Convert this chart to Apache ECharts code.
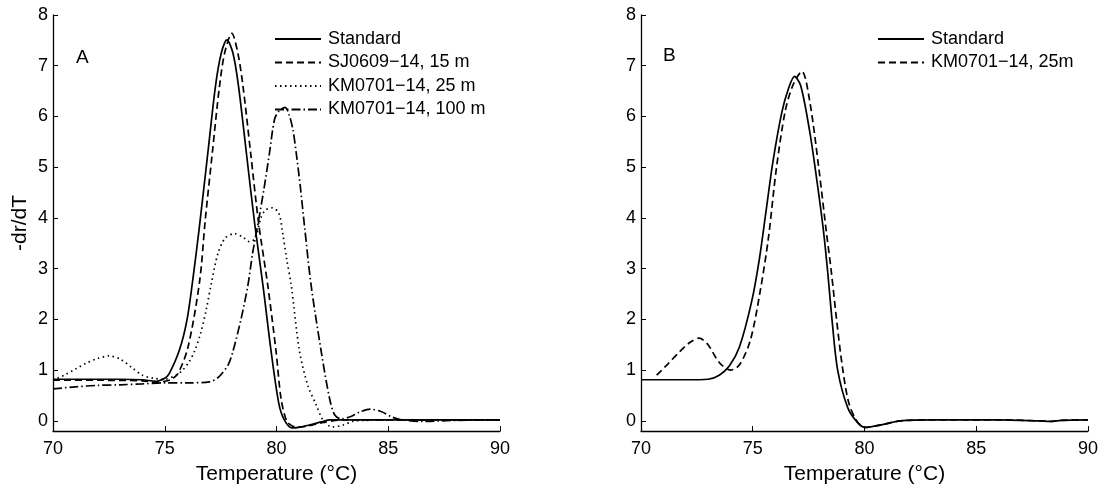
<!DOCTYPE html>
<html>
<head>
<meta charset="utf-8">
<script src="https://cdn.jsdelivr.net/npm/echarts@6/dist/echarts.min.js"></script>
<style>
  html, body { margin: 0; padding: 0; background: #fff; }
  #chart { width: 1101px; height: 490px; }
</style>
</head>
<body>
<div id="chart"></div>
<script>
// Melting-curve derivatives (-dr/dT) versus temperature, two panels.
const yTicks = [0, 1, 2, 3, 4, 5, 6, 7, 8];
const xTicks = [70, 75, 80, 85, 90];

// Panel A
const namesA = ['Standard', 'SJ0609\u221214, 15 m', 'KM0701\u221214, 25 m', 'KM0701\u221214, 100 m'];

const tStdA = [70, 71, 72, 73, 74, 74.6, 75.0, 75.2, 75.66, 76.0, 76.26, 76.53, 76.93, 77.27, 77.53, 77.78, 78.05, 78.3, 78.65, 79.02, 79.4, 79.75, 80.1, 80.35, 80.7, 81.0, 81.5, 82.0, 82.4, 84, 86, 88, 90];
const vStdA = [0.82, 0.82, 0.82, 0.82, 0.81, 0.78, 0.84, 0.93, 1.4, 2.0, 2.8, 3.75, 5.29, 6.6, 7.25, 7.51, 7.25, 6.6, 5.29, 3.9, 2.65, 1.4, 0.35, 0.02, -0.14, -0.13, -0.08, -0.02, 0.02, 0.02, 0.02, 0.02, 0.02];

const tSjA = [70, 72, 74, 74.5, 75, 75.3, 75.59, 76.04, 76.56, 76.81, 77.13, 77.45, 77.68, 78.0, 78.27, 78.5, 78.84, 79.2, 79.61, 79.98, 80.2, 80.45, 80.7, 81.0, 81.4, 82.0, 82.5, 83, 85, 90];
const vSjA = [0.8, 0.8, 0.79, 0.76, 0.78, 0.82, 0.93, 1.45, 2.75, 3.95, 5.29, 6.6, 7.25, 7.64, 7.25, 6.6, 5.29, 3.9, 2.67, 1.37, 0.45, 0.0, -0.1, -0.12, -0.1, -0.04, 0.0, 0.02, 0.02, 0.02];

const tKm25A = [70, 70.5, 71, 71.5, 72, 72.5, 73, 73.5, 74, 74.5, 75, 75.5, 75.8, 76.1, 76.33, 76.6, 76.86, 77.08, 77.38, 77.7, 78.12, 78.5, 78.8, 79.05, 79.3, 79.5, 79.8, 80.1, 80.27, 80.45, 80.66, 81.03, 81.4, 81.77, 82.1, 82.5, 83.0, 83.4, 84, 86, 90];
const vKm25A = [0.8, 0.9, 1.02, 1.14, 1.23, 1.28, 1.22, 1.06, 0.9, 0.84, 0.82, 0.9, 1.0, 1.17, 1.37, 1.72, 2.2, 2.7, 3.3, 3.6, 3.69, 3.62, 3.53, 3.6, 4.0, 4.15, 4.2, 4.1, 3.72, 3.2, 2.67, 1.37, 0.7, 0.32, 0.0, -0.12, -0.08, -0.01, 0.01, 0.02, 0.02];

const tKm100A = [70, 71, 72, 73, 74, 75, 76, 77, 77.38, 77.83, 78.05, 78.42, 78.72, 78.94, 79.21, 79.45, 79.69, 79.91, 80.1, 80.38, 80.55, 80.73, 80.88, 81.06, 81.25, 81.55, 82.0, 82.37, 82.6, 82.9, 83.3, 83.7, 84.2, 84.7, 85.2, 85.6, 86.5, 88, 90];
const vKm100A = [0.63, 0.67, 0.7, 0.71, 0.73, 0.75, 0.75, 0.77, 0.85, 1.1, 1.37, 2.02, 2.67, 3.33, 3.98, 4.6, 5.29, 5.94, 6.1, 6.18, 6.05, 5.75, 5.29, 4.64, 3.85, 2.67, 1.37, 0.45, 0.12, 0.04, 0.08, 0.17, 0.23, 0.18, 0.07, 0.02, -0.01, 0.01, 0.02];

// Panel B
const namesB = ['Standard', 'KM0701\u221214, 25m'];

const tStdB = [70, 71, 72, 73, 73.5, 73.95, 74.4, 74.95, 75.3, 75.6, 75.9, 76.3, 76.6, 76.87, 77.15, 77.55, 77.85, 78.15, 78.35, 78.55, 78.8, 79.25, 79.7, 80.05, 80.5, 80.85, 81.6, 83, 86, 87.8, 88.3, 88.8, 90];
const vStdB = [0.81, 0.81, 0.81, 0.82, 0.9, 1.08, 1.45, 2.35, 3.2, 4.15, 5.1, 6.08, 6.55, 6.79, 6.6, 5.7, 4.8, 3.8, 2.95, 1.98, 1.0, 0.26, -0.04, -0.13, -0.1, -0.07, 0.0, 0.02, 0.02, 0.0, -0.01, 0.01, 0.02];

const tKmB = [70.7, 71.2, 71.7, 72.2, 72.6, 73.0, 73.5, 74.0, 74.4, 74.9, 75.35, 75.7, 76.05, 76.45, 76.8, 77.2, 77.55, 77.95, 78.3, 78.5, 78.75, 79.0, 79.3, 79.7, 80.05, 80.5, 80.85, 81.6, 83, 86, 87.8, 88.3, 88.8, 90];
const vKmB = [0.9, 1.12, 1.35, 1.55, 1.63, 1.5, 1.15, 1.0, 1.1, 1.6, 2.6, 3.6, 4.95, 6.1, 6.62, 6.89, 6.3, 5.0, 3.7, 3.0, 2.0, 1.1, 0.35, -0.03, -0.13, -0.1, -0.07, 0.0, 0.02, 0.02, 0.0, -0.01, 0.01, 0.02];

function pairs(t, v) { return t.map((x, i) => [x, v[i]]); }

const FONT = 'Liberation Sans, Arial, Helvetica, sans-serif';
const dashStyles = ['solid', [7, 4], [1.5, 3.5], [9, 3, 1.5, 3]];

function makeX(gridIndex) {
  return {
    type: 'value', gridIndex, min: 70, max: 90, interval: 5,
    axisLine: { onZero: false, lineStyle: { color: '#000', width: 1.3 } },
    axisTick: { inside: true, length: 5, lineStyle: { color: '#000', width: 1 } },
    axisLabel: { color: '#000', fontSize: 18, fontFamily: FONT, margin: 9, customValues: xTicks },
    splitLine: { show: false },
    name: 'Temperature (\u00B0C)', nameLocation: 'middle', nameGap: 33,
    nameTextStyle: { color: '#000', fontSize: 21, fontFamily: FONT }
  };
}
function makeY(gridIndex, name) {
  return {
    type: 'value', gridIndex, min: -0.2, max: 8,
    axisLine: { show: true, lineStyle: { color: '#000', width: 1.3 } },
    axisTick: { show: true, inside: true, length: 5, customValues: yTicks, lineStyle: { color: '#000', width: 1 } },
    axisLabel: { color: '#000', fontSize: 18, fontFamily: FONT, margin: 5, customValues: yTicks },
    splitLine: { show: false },
    name: name, nameLocation: 'middle', nameGap: 22,
    nameTextStyle: { color: '#000', fontSize: 21, fontFamily: FONT }
  };
}
function line(name, t, v, axisIdx, dash) {
  return {
    name, type: 'line', xAxisIndex: axisIdx, yAxisIndex: axisIdx,
    data: pairs(t, v), symbol: 'none', smooth: 0.3,
    lineStyle: { color: '#000', width: 1.7, type: dash },
    itemStyle: { color: '#000' }, z: 3
  };
}

const chart = echarts.init(document.getElementById('chart'), null, { renderer: 'canvas' });
const legendBase = {
  orient: 'vertical', itemWidth: 46, itemHeight: 12, itemGap: 5.5, padding: 0,
  selectedMode: false,
  itemStyle: { opacity: 0, borderWidth: 0 },
  textStyle: { color: '#000', fontSize: 18, fontFamily: FONT, padding: [0, 0, 0, 2] }
};
chart.setOption({
  animation: false,
  backgroundColor: '#fff',
  grid: [
    { left: 53, top: 15, width: 447, height: 418 },
    { left: 641, top: 15, width: 447, height: 418 }
  ],
  xAxis: [makeX(0), makeX(1)],
  yAxis: [makeY(0, '-dr/dT'), makeY(1, '')],
  legend: [
    Object.assign({}, legendBase, { data: namesA, left: 274, top: 30 }),
    Object.assign({}, legendBase, { data: namesB, left: 877, top: 30 })
  ],
  graphic: [
    { type: 'text', left: 76, top: 48, style: { text: 'A', fontSize: 19, fontFamily: FONT, fill: '#000' } },
    { type: 'text', left: 663, top: 46, style: { text: 'B', fontSize: 19, fontFamily: FONT, fill: '#000' } }
  ],
  series: [
    line(namesA[0], tStdA, vStdA, 0, dashStyles[0]),
    line(namesA[1], tSjA, vSjA, 0, dashStyles[1]),
    line(namesA[2], tKm25A, vKm25A, 0, dashStyles[2]),
    line(namesA[3], tKm100A, vKm100A, 0, dashStyles[3]),
    line(namesB[0], tStdB, vStdB, 1, dashStyles[0]),
    line(namesB[1], tKmB, vKmB, 1, dashStyles[1])
  ]
});
</script>
</body>
</html>
